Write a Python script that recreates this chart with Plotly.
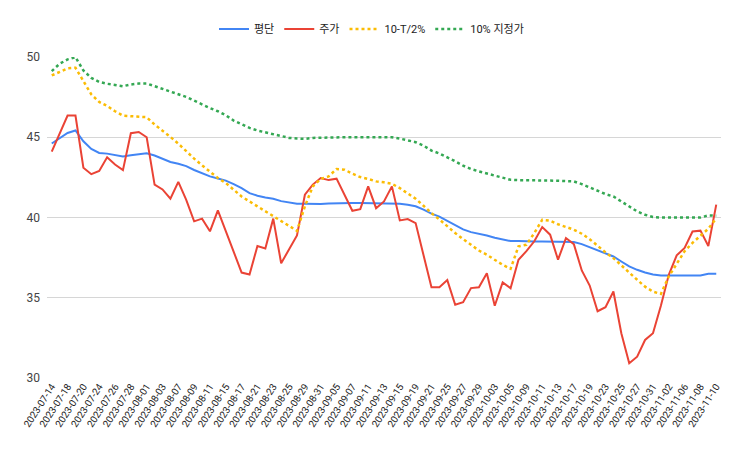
import datetime as dt
import plotly.graph_objects as go

# US trading days 2023-07-14 .. 2023-11-10 (Labor Day 09-04 closed)
start = dt.date(2023, 7, 14)
end = dt.date(2023, 11, 10)
holidays = {dt.date(2023, 9, 4)}
dates = []
d = start
while d <= end:
    if d.weekday() < 5 and d not in holidays:
        dates.append(d.isoformat())
    d += dt.timedelta(days=1)

avg_cost = [44.61, 44.92, 45.27, 45.42, 44.75, 44.27, 44.02, 43.98, 43.90, 43.80,
            43.88, 43.96, 44.00, 43.86, 43.67, 43.46, 43.35, 43.20, 42.96, 42.77,
            42.56, 42.43, 42.30, 42.08, 41.83, 41.52, 41.36, 41.25, 41.17, 41.02,
            40.92, 40.86, 40.86, 40.84, 40.84, 40.88, 40.90, 40.90, 40.90, 40.90,
            40.90, 40.90, 40.90, 40.90, 40.86, 40.80, 40.70, 40.49, 40.24, 40.06,
            39.78, 39.51, 39.26, 39.09, 38.99, 38.88, 38.74, 38.63, 38.53, 38.53,
            38.50, 38.50, 38.50, 38.50, 38.48, 38.47, 38.47, 38.34, 38.15, 37.93,
            37.74, 37.57, 37.26, 36.95, 36.74, 36.57, 36.45, 36.38, 36.38, 36.38,
            36.38, 36.38, 36.38, 36.49, 36.49]

price = [44.10, 45.20, 46.35, 46.35, 43.10, 42.70, 42.90, 43.75, 43.30, 42.95,
         45.25, 45.33, 45.00, 42.05, 41.75, 41.17, 42.22, 41.10, 39.76, 39.93,
         39.14, 40.45, 39.16, 37.87, 36.57, 36.45, 38.22, 38.07, 39.93, 37.15,
         38.00, 38.88, 41.42, 42.05, 42.46, 42.33, 42.42, 41.40, 40.42, 40.52,
         41.94, 40.58, 41.00, 41.94, 39.82, 39.90, 39.65, 37.65, 35.65, 35.65,
         36.10, 34.56, 34.72, 35.60, 35.65, 36.52, 34.50, 35.96, 35.59, 37.37,
         37.90, 38.52, 39.40, 38.93, 37.37, 38.72, 38.34, 36.70, 35.76, 34.16,
         34.41, 35.39, 32.79, 30.92, 31.33, 32.37, 32.79, 34.50, 36.43, 37.64,
         38.10, 39.13, 39.18, 38.22, 40.80]

tenT = [48.85, 49.06, 49.29, 49.33, 48.51, 47.67, 47.20, 46.95, 46.62, 46.35,
        46.31, 46.27, 46.25, 45.79, 45.42, 45.02, 44.60, 44.12, 43.67, 43.25,
        42.83, 42.46, 42.15, 41.73, 41.31, 41.00, 40.69, 40.38, 40.06, 39.75,
        39.44, 39.17, 40.70, 41.94, 42.40, 42.56, 43.02, 42.98, 42.73, 42.52,
        42.40, 42.25, 42.19, 42.10, 41.83, 41.52, 41.17, 40.73, 40.27, 39.88,
        39.44, 39.03, 38.65, 38.30, 37.94, 37.68, 37.37, 37.05, 36.80, 38.20,
        38.30, 39.03, 39.86, 39.80, 39.58, 39.40, 39.24, 38.99, 38.65, 38.24,
        37.82, 37.47, 37.05, 36.57, 36.12, 35.69, 35.38, 35.24, 36.33, 37.15,
        37.90, 38.42, 38.83, 39.30, 39.95]

limit10 = [49.12, 49.58, 49.85, 49.99, 49.16, 48.70, 48.45, 48.33, 48.26, 48.18,
           48.29, 48.35, 48.35, 48.18, 48.01, 47.84, 47.71, 47.51, 47.28, 47.03,
           46.82, 46.62, 46.37, 46.04, 45.79, 45.58, 45.42, 45.31, 45.17, 45.06,
           44.96, 44.92, 44.90, 44.96, 44.98, 45.00, 45.02, 45.00, 45.00, 45.00,
           45.00, 45.00, 45.00, 45.00, 44.92, 44.81, 44.69, 44.48, 44.17, 43.99,
           43.77, 43.50, 43.23, 43.02, 42.87, 42.73, 42.60, 42.46, 42.35, 42.33,
           42.33, 42.33, 42.33, 42.31, 42.29, 42.27, 42.25, 42.08, 41.87, 41.62,
           41.46, 41.31, 41.00, 40.65, 40.38, 40.17, 40.03, 40.00, 40.00, 40.00,
           40.00, 40.00, 40.00, 40.13, 40.11]

series_names = ["평단", "주가", "10-T/2%", "10% 지정가"]
colors = ["#4285F4", "#EA4335", "#FBBC04", "#34A853"]
y_ticks = [30, 35, 40, 45, 50]
tick_dates = dates[::2]

fig = go.Figure()
fig.add_trace(go.Scatter(x=dates, y=avg_cost, name=series_names[0], mode="lines",
                         line=dict(color=colors[0], width=2)))
fig.add_trace(go.Scatter(x=dates, y=price, name=series_names[1], mode="lines",
                         line=dict(color=colors[1], width=2)))
fig.add_trace(go.Scatter(x=dates, y=tenT, name=series_names[2], mode="lines",
                         line=dict(color=colors[2], width=2.5, dash="dot")))
fig.add_trace(go.Scatter(x=dates, y=limit10, name=series_names[3], mode="lines",
                         line=dict(color=colors[3], width=2.5, dash="dot")))

fig.update_layout(
    width=743, height=459,
    margin=dict(l=47, r=22, t=57, b=81, autoexpand=False),
    paper_bgcolor="white", plot_bgcolor="white",
    font=dict(family="Roboto, 'Noto Sans CJK KR', Arial, sans-serif", color="#444", size=11),
    showlegend=True,
    legend=dict(orientation="h", xref="container", yref="container",
                x=0.5, xanchor="center", y=0.937, yanchor="middle",
                font=dict(size=11, color="#222"), itemwidth=30,
                bgcolor="rgba(0,0,0,0)"),
    xaxis=dict(type="category", categoryorder="array", categoryarray=dates,
               range=[-0.6, len(dates) - 0.4], automargin=False,
               tickmode="array", tickvals=tick_dates, ticktext=tick_dates,
               tickangle=-57, tickfont=dict(size=9.8, color="#222"),
               showgrid=False, showline=False, ticks="", zeroline=False),
    yaxis=dict(range=[30, 50], tickmode="array", tickvals=y_ticks, automargin=False,
               ticktext=[str(v) for v in y_ticks],
               showgrid=True, gridcolor="#d6d6d6", gridwidth=1,
               zeroline=False, showline=False, ticks="",
               tickfont=dict(size=12, color="#444"), ticklabelstandoff=6),
)

fig.write_html("out.html")
